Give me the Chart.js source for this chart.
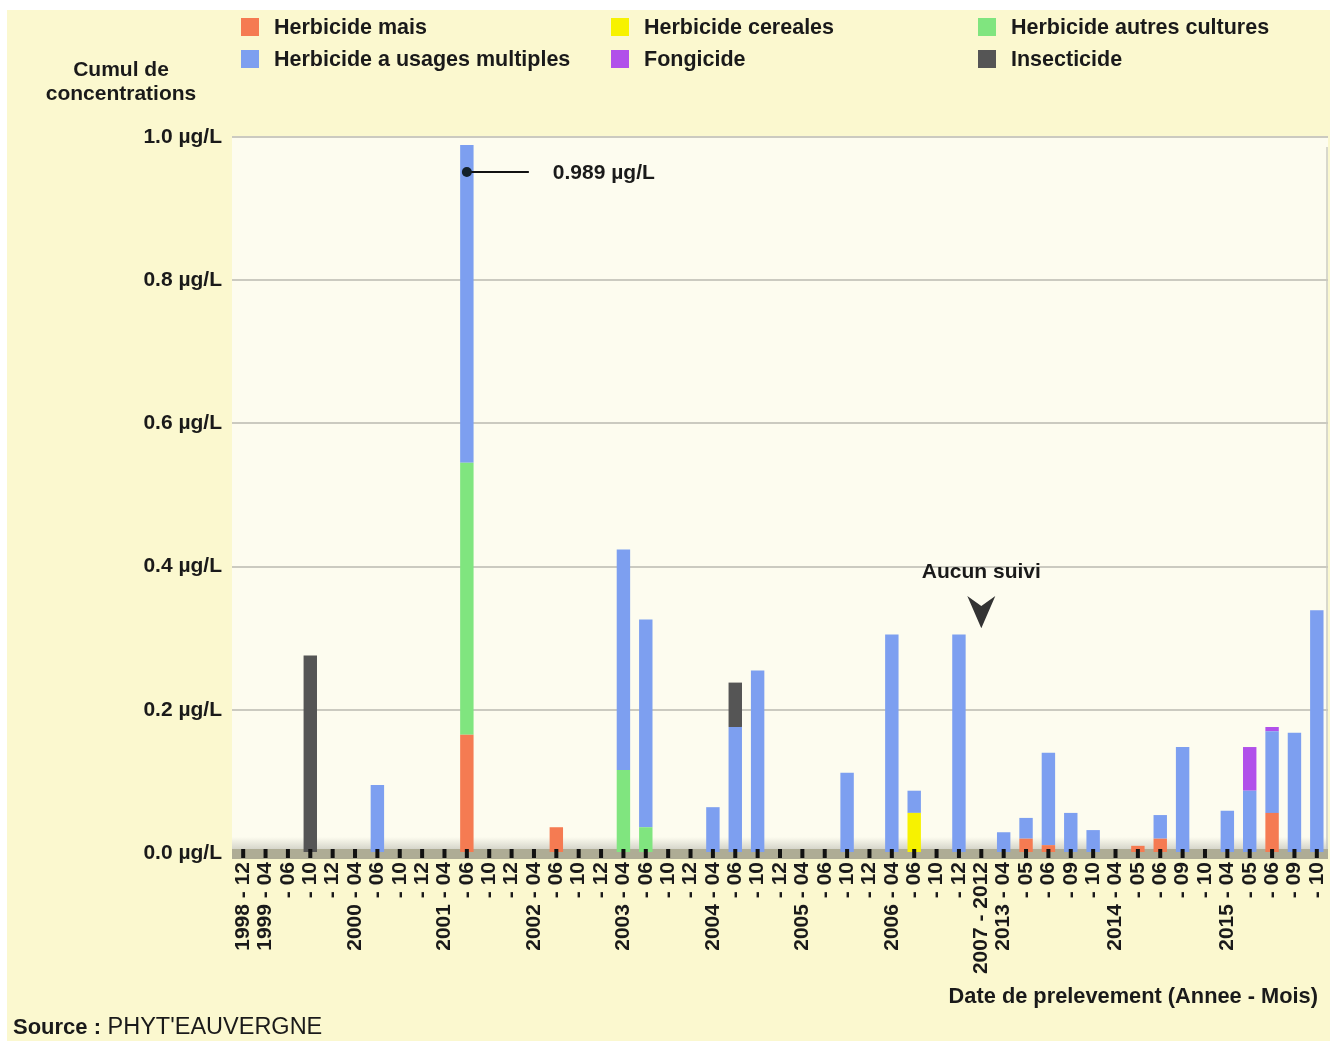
<!DOCTYPE html>
<html>
<head>
<meta charset="utf-8">
<script src="https://cdn.jsdelivr.net/npm/chart.js@4.4.1/dist/chart.umd.min.js"></script>
<style>
  html, body { margin: 0; padding: 0; background: #fff; }
  canvas { display: block; }
</style>
</head>
<body>
<canvas id="c" width="1330" height="1041"></canvas>
<script>
// dates de prelevement (annee - mois)
const dates = ['1998 - 12','1999 - 04','- 06','- 10','- 12','2000 - 04','- 06','- 10','- 12',
  '2001 - 04','- 06','- 10','- 12','2002 - 04','- 06','- 10','- 12','2003 - 04','- 06','- 10','- 12',
  '2004 - 04','- 06','- 10','- 12','2005 - 04','- 06','- 10','- 12','2006 - 04','- 06','- 10','- 12',
  '2007 - 2012','2013 - 04','- 05','- 06','- 09','- 10','2014 - 04','- 05','- 06','- 09','- 10',
  '2015 - 04','- 05','- 06','- 09','- 10'];

// concentrations en µg/L (null = rien)
const herbMais      = [null,null,null,null,null,null,null,null,null,null,0.165,null,null,null,0.036,null,null,null,null,null,null,null,null,null,null,null,null,null,null,null,null,null,null,null,null,0.020,0.011,null,null,null,0.010,0.020,null,null,null,null,0.056,null,null];
const herbCereales  = [null,null,null,null,null,null,null,null,null,null,null,null,null,null,null,null,null,null,null,null,null,null,null,null,null,null,null,null,null,null,0.056,null,null,null,null,null,null,null,null,null,null,null,null,null,null,null,null,null,null];
const herbAutres    = [null,null,null,null,null,null,null,null,null,null,0.380,null,null,null,null,null,null,0.116,0.036,null,null,null,null,null,null,null,null,null,null,null,null,null,null,null,null,null,null,null,null,null,null,null,null,null,null,null,null,null,null];
const herbMultiples = [null,null,null,null,null,null,0.095,null,null,null,0.444,null,null,null,null,null,null,0.308,0.290,null,null,0.064,0.176,0.255,null,null,null,0.112,null,0.305,0.031,null,0.305,null,0.029,0.029,0.129,0.056,0.032,null,null,0.033,0.148,null,0.059,0.087,0.114,0.168,0.339];
const fongicide     = [null,null,null,null,null,null,null,null,null,null,null,null,null,null,null,null,null,null,null,null,null,null,null,null,null,null,null,null,null,null,null,null,null,null,null,null,null,null,null,null,null,null,null,null,null,0.061,0.006,null,null];
const insecticide   = [null,null,null,0.276,null,null,null,null,null,null,null,null,null,null,null,null,null,null,null,null,null,null,0.062,null,null,null,null,null,null,null,null,null,null,null,null,null,null,null,null,null,null,null,null,null,null,null,null,null,null];

const yTicks = [0, 0.2, 0.4, 0.6, 0.8, 1.0];

// annotations
const maxLabel = '0.989 µg/L';
const maxIndex = 10;
const maxMarkValue = 0.951;
const gapIndex = 33;

const FONT = '"Liberation Sans", Arial, sans-serif';
Chart.defaults.font.family = FONT;
Chart.defaults.color = '#1a1a1a';

// fond jaune + zone de trace
const background = {
  id: 'background',
  beforeDraw(chart) {
    const ctx = chart.ctx;
    const a = chart.chartArea;
    ctx.save();
    ctx.fillStyle = '#ffffff';
    ctx.fillRect(0, 0, chart.width, chart.height);
    ctx.fillStyle = '#fbf8cf';
    ctx.fillRect(7, 10, chart.width - 7, chart.height - 10);
    ctx.fillStyle = '#fdfcef';
    ctx.fillRect(a.left, a.top, a.right - a.left, a.bottom - a.top);
    ctx.fillStyle = '#d8d8cc';
    ctx.fillRect(a.right - 2, a.top + 10, 2, a.bottom - a.top - 10);
    ctx.restore();
  }
};

// bande du sol + petits reperes noirs
const floor = {
  id: 'floor',
  beforeDatasetsDraw(chart) {
    const ctx = chart.ctx;
    const a = chart.chartArea;
    const y0 = chart.scales.y.getPixelForValue(0);
    ctx.save();
    let g = ctx.createLinearGradient(0, y0 - 16, 0, y0 - 3);
    g.addColorStop(0, 'rgba(200,200,190,0)');
    g.addColorStop(1, 'rgba(200,200,190,0.8)');
    ctx.fillStyle = g;
    ctx.fillRect(a.left, y0 - 16, a.right - a.left, 13);
    ctx.fillStyle = '#aeac95';
    ctx.fillRect(a.left, y0 - 4, a.right - a.left, 10);
    ctx.restore();
  },
  afterDatasetsDraw(chart) {
    const ctx = chart.ctx;
    const x = chart.scales.x;
    const y0 = chart.scales.y.getPixelForValue(0);
    ctx.save();
    ctx.fillStyle = '#111';
    for (let i = 0; i < dates.length; i++) {
      const px = x.getPixelForValue(i);
      ctx.fillRect(px - 2, y0 - 4, 4, 9);
    }
    ctx.restore();
  }
};

const texts = {
  id: 'texts',
  afterDraw(chart) {
    const ctx = chart.ctx;
    const x = chart.scales.x;
    const y = chart.scales.y;
    ctx.save();
    ctx.fillStyle = '#1a1a1a';
    ctx.textBaseline = 'middle';

    // legende en 3 colonnes
    const order = [0, 3, 1, 4, 2, 5];
    const colX = [241, 611, 978];
    const rowY = [27, 59];
    order.forEach((di, k) => {
      const ds = chart.data.datasets[di];
      const cx = colX[Math.floor(k / 2)];
      const cy = rowY[k % 2];
      ctx.fillStyle = ds.backgroundColor;
      ctx.fillRect(cx, cy - 9, 18, 18);
      ctx.fillStyle = '#1a1a1a';
      ctx.font = 'bold 21.5px ' + FONT;
      ctx.textAlign = 'left';
      ctx.fillText(ds.label, cx + 33, cy + 1);
    });

    // titre axe y
    ctx.textAlign = 'center';
    ctx.font = 'bold 21px ' + FONT;
    ctx.fillText('Cumul de', 121, 70);
    ctx.fillText('concentrations', 121, 94);

    // titre axe x
    ctx.textAlign = 'right';
    ctx.font = 'bold 21.8px ' + FONT;
    ctx.fillText('Date de prelevement (Annee - Mois)', 1318, 997);

    // source
    ctx.textAlign = 'left';
    ctx.font = 'bold 22px ' + FONT;
    ctx.fillText('Source :', 13, 1028);
    const w = ctx.measureText('Source :').width;
    ctx.font = '23.5px ' + FONT;
    ctx.fillText(" PHYT'EAUVERGNE", 13 + w, 1028);

    // valeur max
    const mx = x.getPixelForValue(maxIndex);
    const my = y.getPixelForValue(maxMarkValue);
    ctx.strokeStyle = '#111';
    ctx.lineWidth = 2;
    ctx.beginPath();
    ctx.moveTo(mx, my);
    ctx.lineTo(mx + 62, my);
    ctx.stroke();
    ctx.fillStyle = '#13212b';
    ctx.beginPath();
    ctx.arc(mx, my, 5, 0, Math.PI * 2);
    ctx.fill();
    ctx.fillStyle = '#1a1a1a';
    ctx.font = 'bold 21px ' + FONT;
    ctx.textAlign = 'left';
    ctx.fillText(maxLabel, mx + 86, my + 1);

    // aucun suivi
    const gx = x.getPixelForValue(gapIndex);
    ctx.textAlign = 'center';
    ctx.fillText('Aucun suivi', gx, y.getPixelForValue(0.392));
    const top = y.getPixelForValue(0.359);
    const tip = y.getPixelForValue(0.314);
    ctx.fillStyle = '#333';
    ctx.beginPath();
    ctx.moveTo(gx - 14, top);
    ctx.lineTo(gx, top + 10);
    ctx.lineTo(gx + 14, top);
    ctx.lineTo(gx, tip);
    ctx.closePath();
    ctx.fill();
    ctx.restore();
  }
};

const data = {
  labels: dates,
  datasets: [
    { label: 'Herbicide mais', data: herbMais, backgroundColor: '#f57b52' },
    { label: 'Herbicide cereales', data: herbCereales, backgroundColor: '#f7f200' },
    { label: 'Herbicide autres cultures', data: herbAutres, backgroundColor: '#80e57f' },
    { label: 'Herbicide a usages multiples', data: herbMultiples, backgroundColor: '#7d9ff0' },
    { label: 'Fongicide', data: fongicide, backgroundColor: '#b150ea' },
    { label: 'Insecticide', data: insecticide, backgroundColor: '#555555' }
  ]
};

const config = {
  type: 'bar',
  data: data,
  options: {
    responsive: false,
    animation: false,
    devicePixelRatio: 1,
    layout: { padding: { top: 137, right: 2, left: 0, bottom: 0 } },
    datasets: { bar: { categoryPercentage: 1, barPercentage: 0.6 } },
    plugins: { legend: { display: false }, tooltip: { enabled: false } },
    scales: {
      x: {
        stacked: true,
        border: { display: false },
        grid: { display: true, drawOnChartArea: false, offset: false, tickLength: 9, color: 'transparent' },
        ticks: {
          autoSkip: false, maxRotation: 90, minRotation: 90, padding: 0,
          font: { size: 21, weight: 'bold' }, color: '#1a1a1a'
        },
        afterFit(scale) {
          scale.height = 188;
          scale.paddingLeft = 0;
          scale.paddingRight = 0;
        }
      },
      y: {
        stacked: true,
        min: 0, max: 1.0,
        border: { display: false },
        grid: { color: '#cbcac0', lineWidth: 2, drawTicks: false },
        afterBuildTicks(scale) { scale.ticks = yTicks.map(v => ({ value: v })); },
        ticks: {
          padding: 10,
          font: { size: 21, weight: 'bold' }, color: '#1a1a1a',
          callback: v => v.toFixed(1) + ' µg/L'
        },
        afterFit(scale) { scale.width = 232; }
      }
    }
  },
  plugins: [background, floor, texts]
};

let c = document.getElementById('c').getContext('2d');
new Chart(c, config);
</script>
</body>
</html>
